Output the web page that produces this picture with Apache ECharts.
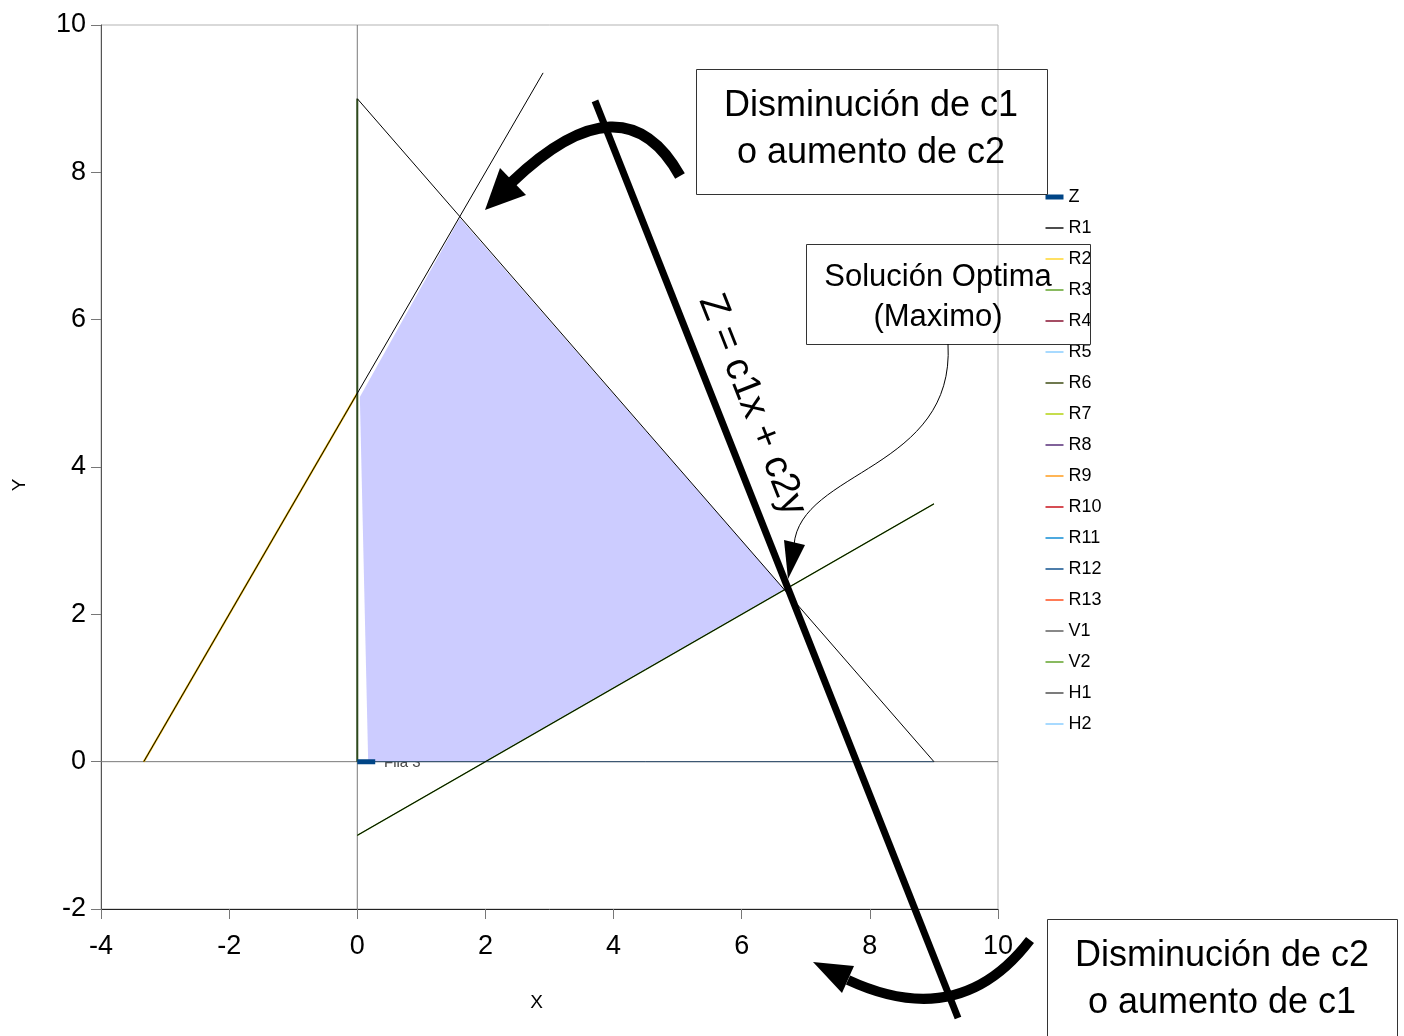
<!DOCTYPE html>
<html>
<head>
<meta charset="utf-8">
<script src="https://cdn.jsdelivr.net/npm/echarts@6/dist/echarts.min.js"></script>
<style>html,body{margin:0;padding:0;background:#fff}#c{width:1404px;height:1036px}</style>
</head>
<body>
<div id="c"></div>
<script>
// ---- data ----
const legendNames = ['Z','R1','R2','R3','R4','R5','R6','R7','R8','R9','R10','R11','R12','R13','V1','V2','H1','H2'];
const legendColors = ['#004586','#000000','#ffd320','#579d1c','#7e0021','#83caff','#314004','#aecf00','#4b1f6f','#ff950e','#c5000b','#0084d1','#004586','#ff420e','#555555','#579d1c','#444444','#83caff'];
// constraint lines (x, y pairs)
const lineH1 = [[-4, 0], [10, 0]];
const lineV1 = [[0, -2], [0, 10]];
const lineR1 = [[0, 9], [9, 0]];             // x + y = 9
const lineR1b = [[-3.333, 0], [2.9, 9.35]];  // y = 1.5x + 5
const lineR2 = [[-3.333, 0], [0, 5]];
const lineR3 = [[0, -1], [9, 3.5]];          // y = 0.5x - 1
const lineR6 = [[0, 0], [0, 9]];
const lineR12 = [[0, 0], [9, 0]];
const lineZmark = [[0, 0], [0.28, 0]];
const lineZobj = [[3.71, 8.97], [9.376, -3.48]]; // objective line Z
// feasible region
const regionX = [0.04, 1.6, 6.667, 2.0, 0.17];
const regionY = [4.95, 7.38, 2.333, 0.0, 0.0];
const xTicks = [-4, -2, 0, 2, 4, 6, 8, 10];
const yTicks = [-2, 0, 2, 4, 6, 8, 10];

const narrow = "'Liberation Sans Narrow', 'Arial Narrow', 'Liberation Sans', sans-serif";
const sans = "'Liberation Sans', Arial, sans-serif";

function ln(name, data, color, width, z) {
  return {type: 'line', name: name, data: data, symbol: 'none', showSymbol: false,
    lineStyle: {color: color, width: width}, itemStyle: {color: color}, z: z || 3, silent: true, animation: false};
}
const colorOf = n => legendColors[legendNames.indexOf(n)];

const series = [
  {type: 'custom', name: 'region', z: 1, silent: true, animation: false,
    data: [[0, 0]],
    renderItem: function (params, api) {
      const pts = regionX.map((x, i) => api.coord([x, regionY[i]]));
      return {type: 'polygon', shape: {points: pts}, style: {fill: '#ccccff'}};
    }},
  ln('H1', lineH1, '#7a7a7a', 1, 2),
  ln('V1', lineV1, '#7a7a7a', 1, 2),
  ln('R2', lineR2, '#e8b400', 2, 3),
  ln('R3', lineR3, colorOf('R3'), 1.3, 3),
  ln('R6', lineR6, '#2e4a1c', 2, 3),
  ln('R12', lineR12, '#2f4f6f', 1, 3),
  ln('R1', lineR1, '#000000', 1, 4),
  ln('R1', lineR1b, '#000000', 1, 4),
  ln('R1', lineR3, '#000000', 1, 4),
  ln('Z', lineZmark, colorOf('Z'), 5, 5),
];
legendNames.forEach(n => {
  if (!series.some(s => s.name === n)) series.push(ln(n, [], colorOf(n), 1, 3));
});
const legendData = legendNames.map(n => ({name: n, itemStyle: {opacity: 0},
  lineStyle: {color: colorOf(n), width: n === 'Z' ? 5 : 1.4, opacity: 1}}));
series.push({type: 'line', name: 'Zobj', data: lineZobj, symbol: 'none', clip: false, silent: true, animation: false,
  lineStyle: {color: '#000', width: 7, cap: 'butt'}, z: 10});

const chart = echarts.init(document.getElementById('c'));
chart.setOption({
  animation: false,
  backgroundColor: '#fff',
  grid: {left: 101, right: 406, top: 25, bottom: 127, show: true, borderColor: '#b3b3b3', borderWidth: 1,
    containLabel: false, outerBoundsMode: 'none'},
  xAxis: {type: 'value', min: -4, max: 10, interval: 2, name: 'X', nameLocation: 'middle', nameGap: 84,
    nameTextStyle: {fontFamily: narrow, fontSize: 19, color: '#000', padding: [0, 26, 0, 0]},
    axisLine: {onZero: false, lineStyle: {color: '#222', width: 1}},
    axisTick: {length: 10, lineStyle: {color: '#777'}},
    splitLine: {show: false},
    axisLabel: {fontFamily: narrow, fontSize: 27, color: '#000', margin: 24}},
  yAxis: {type: 'value', min: -2, max: 10, interval: 2, name: 'Y', nameLocation: 'middle', nameGap: 72,
    nameTextStyle: {fontFamily: narrow, fontSize: 19, color: '#000', padding: [0, 36, 0, 0]},
    axisLine: {onZero: false, lineStyle: {color: '#555', width: 1}},
    axisTick: {length: 10, lineStyle: {color: '#777'}},
    splitLine: {show: false},
    axisLabel: {fontFamily: narrow, fontSize: 27, color: '#000', margin: 15}},
  legend: {data: legendData, orient: 'vertical', left: 1043, top: 188, padding: 0, itemWidth: 18, itemHeight: 13,
    itemGap: 13, textStyle: {fontFamily: narrow, fontSize: 18, color: '#000', verticalAlign: 'top', lineHeight: 8},
    itemStyle: {opacity: 0}, selectedMode: false},
  series: series,
  graphic: [
    {type: 'text', x: 384, y: 763, z: 0, zlevel: 0, style: {text: 'Fila 3', fontFamily: narrow, fontSize: 15, fill: '#444', verticalAlign: 'middle'}},
    // box 1
    {type: 'rect', shape: {x: 696.5, y: 69.5, width: 351, height: 125}, style: {fill: 'rgba(0,0,0,0)', stroke: '#333', lineWidth: 1}, z: 20},
    {type: 'text', x: 871, y: 130, z: 20, style: {text: 'Disminución de c1\no aumento de c2', fontFamily: sans, fontSize: 36, lineHeight: 47, fill: '#000', align: 'center', verticalAlign: 'middle'}},
    // box 2
    {type: 'rect', shape: {x: 806.5, y: 244.5, width: 284, height: 100}, style: {fill: 'rgba(0,0,0,0)', stroke: '#333', lineWidth: 1}, z: 20},
    {type: 'text', x: 938, y: 297, z: 20, style: {text: 'Solución Optima\n(Maximo)', fontFamily: sans, fontSize: 31, lineHeight: 40, fill: '#000', align: 'center', verticalAlign: 'middle'}},
    // box 3
    {type: 'rect', shape: {x: 1047.5, y: 919.5, width: 350, height: 130}, style: {fill: 'rgba(0,0,0,0)', stroke: '#333', lineWidth: 1}, z: 20},
    {type: 'text', x: 1222, y: 980, z: 20, style: {text: 'Disminución de c2\no aumento de c1', fontFamily: sans, fontSize: 36, lineHeight: 47, fill: '#000', align: 'center', verticalAlign: 'middle'}},
    // Z label
    {type: 'text', x: 752, y: 405, rotation: -1.194, z: 20, style: {text: 'Z = c1x + c2y', fontFamily: sans, fontSize: 39, fill: '#000', align: 'center', verticalAlign: 'middle'}},
    // arrow 1 (top)
    {type: 'bezierCurve', z: 20, shape: {x1: 680, y1: 176, x2: 512, y2: 182, cpx1: 624, cpy1: 75}, style: {stroke: '#000', lineWidth: 11, fill: null}},
    {type: 'polygon', z: 20, shape: {points: [[485, 210], [500, 168], [526, 195]]}, style: {fill: '#000'}},
    // arrow 2 (bottom)
    {type: 'bezierCurve', z: 20, shape: {x1: 1030, y1: 940, x2: 848, y2: 980, cpx1: 960, cpy1: 1032}, style: {stroke: '#000', lineWidth: 10, fill: null}},
    {type: 'polygon', z: 20, shape: {points: [[813, 962], [842, 993], [854, 966]]}, style: {fill: '#000'}},
    // thin callout arrow
    {type: 'bezierCurve', z: 20, shape: {x1: 948, y1: 344, x2: 794, y2: 545, cpx1: 955, cpy1: 470, cpx2: 800, cpy2: 470}, style: {stroke: '#000', lineWidth: 1, fill: null}},
    {type: 'polygon', z: 20, shape: {points: [[788, 579], [784, 540], [805, 545]]}, style: {fill: '#000'}}
  ]
});
</script>
</body>
</html>
